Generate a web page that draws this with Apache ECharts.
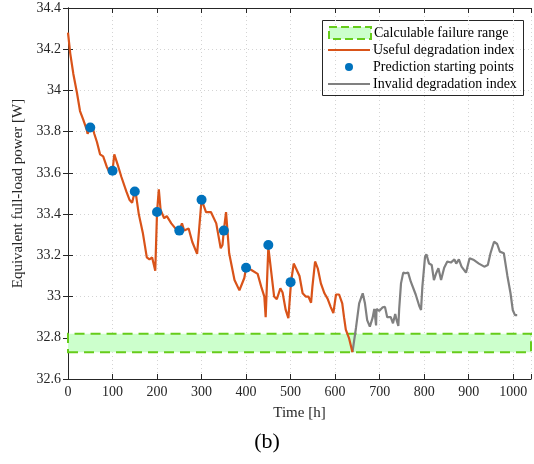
<!DOCTYPE html>
<html>
<head>
<meta charset="utf-8">
<script src="https://cdn.jsdelivr.net/npm/echarts@6/dist/echarts.min.js"></script>
<style>
  html, body { margin: 0; padding: 0; background: #fff; }
  #chart { width: 534px; height: 464px; }
</style>
</head>
<body>
<div id="chart"></div>
<script>
// useful degradation index (orange)
const usefulTime = [0, 5, 12, 20, 27, 34, 42, 44, 50, 53, 59, 65, 72, 79, 87, 94, 100, 104, 113, 120,
  131, 138, 144, 150, 153, 159, 168, 177, 183, 189, 196, 200, 204, 208, 216, 222, 232, 243, 250, 256,
  261, 271, 279, 290, 300, 310, 321, 333, 343, 347, 350, 355, 362, 374, 385, 396, 400, 411, 426, 434,
  441, 444, 450, 452, 463, 469, 477, 482, 489, 495, 501, 507, 512, 520, 527, 534, 540, 546, 549, 555,
  561, 568, 576, 583, 590, 596, 602, 609, 616, 620, 624, 631, 639];
const usefulPower = [34.28, 34.18, 34.08, 33.99, 33.90, 33.86, 33.81, 33.79, 33.82, 33.84, 33.79, 33.75, 33.69, 33.68, 33.63, 33.60, 33.61, 33.69, 33.63, 33.58,
  33.51, 33.47, 33.455, 33.51, 33.49, 33.40, 33.31, 33.19, 33.18, 33.19, 33.125, 33.41, 33.52, 33.42, 33.38, 33.39, 33.355, 33.326, 33.32, 33.355,
  33.32, 33.33, 33.266, 33.207, 33.47, 33.41, 33.41, 33.355, 33.234, 33.25, 33.32, 33.41, 33.21, 33.08, 33.03, 33.09, 33.14, 33.13, 33.11, 33.048,
  33.0, 32.90, 33.24, 33.24, 33.0, 32.987, 33.04, 33.02, 32.935, 32.895, 33.07, 33.16, 33.137, 33.10, 33.016, 33.0, 33.0, 32.97, 33.048, 33.17,
  33.137, 33.064, 33.016, 32.99, 32.95, 32.92, 33.01, 33.01, 32.967, 32.90, 32.84, 32.80, 32.73];

// invalid degradation index (grey)
const invalidTime = [639, 647, 654, 662, 667, 672, 678, 684, 688, 692, 693, 699, 707, 712, 717, 725, 730, 735, 738, 742,
  744, 748, 753, 758, 764, 770, 773, 781, 789, 793, 796, 802, 805, 811, 817, 822, 827, 832, 838, 845,
  852, 860, 868, 872, 878, 884, 894, 902, 912, 923, 935, 943, 949, 957, 964, 970, 979, 987, 994, 999,
  1004, 1009];
const invalidPower = [32.73, 32.85, 32.967, 33.016, 32.967, 32.886, 32.854, 32.895, 32.94, 32.86, 32.94, 32.93, 32.948, 32.95, 32.90, 32.90, 32.87, 32.915, 32.886, 32.857,
  32.943, 33.064, 33.116, 33.113, 33.116, 33.072, 33.064, 33.01, 32.954, 32.935, 33.048, 33.193, 33.205, 33.16, 33.153, 33.08, 33.113, 33.137, 33.08, 33.14,
  33.17, 33.165, 33.18, 33.16, 33.18, 33.145, 33.116, 33.186, 33.177, 33.16, 33.145, 33.153, 33.21, 33.266, 33.255, 33.218, 33.21, 33.10, 33.016, 32.935,
  32.91, 32.91];

// prediction starting points
const startTime = [50, 100, 150, 200, 250, 300, 350, 400, 450, 500];
const startPower = [33.82, 33.61, 33.51, 33.41, 33.32, 33.47, 33.32, 33.14, 33.25, 33.07];

// calculable failure range
const bandLow = 32.73;
const bandHigh = 32.82;

const names = ['Calculable failure range', 'Useful degradation index', 'Prediction starting points', 'Invalid degradation index'];

const zip = (xs, ys) => xs.map((x, i) => [x, ys[i]]);
const font = 'Liberation Serif';
const axisColor = '#262626';
const linePath = 'path://M0,0H44V2H0Z';

const myChart = echarts.init(document.getElementById('chart'));
const gridLine = { show: true, lineStyle: { color: '#d4d4d4', type: [1, 3], width: 1 } };

const option = {
  animation: false,
  textStyle: { fontFamily: font },
  grid: { left: 68, right: 2, top: 8, bottom: 85 },
  title: {
    text: '(b)', left: 'center', top: 426,
    textStyle: { fontFamily: font, fontSize: 22, fontWeight: 'normal', color: '#000' }
  },
  xAxis: [
    {
      type: 'value', min: 0, max: 1040, interval: 100,
      name: 'Time [h]', nameLocation: 'middle', nameGap: 27,
      nameTextStyle: { fontFamily: font, fontSize: 15, color: axisColor },
      axisLine: { lineStyle: { color: axisColor } },
      axisTick: { inside: true, length: 5, lineStyle: { color: axisColor } },
      axisLabel: {
        fontFamily: font, fontSize: 14, color: axisColor, margin: 6,
        formatter: v => (v % 100 === 0 ? String(v) : '')
      },
      splitLine: gridLine
    },
    {
      type: 'value', min: 0, max: 1040, interval: 100, position: 'top',
      axisLine: { lineStyle: { color: axisColor } },
      axisTick: { inside: true, length: 5, lineStyle: { color: axisColor } },
      axisLabel: { show: false },
      splitLine: { show: false }
    }
  ],
  yAxis: [
    {
      type: 'value', min: 32.6, max: 34.4, interval: 0.2,
      name: 'Equivalent full-load power [W]', nameLocation: 'middle', nameGap: 42,
      nameTextStyle: { fontFamily: font, fontSize: 15, color: axisColor },
      axisLine: { show: true, lineStyle: { color: axisColor } },
      axisTick: { show: true, inside: true, length: 5, lineStyle: { color: axisColor } },
      axisLabel: { fontFamily: font, fontSize: 14, color: axisColor, margin: 7 },
      splitLine: gridLine
    },
    {
      type: 'value', min: 32.6, max: 34.4, interval: 0.2, position: 'right',
      axisLine: { show: true, lineStyle: { color: axisColor } },
      axisTick: { show: true, inside: true, length: 5, lineStyle: { color: axisColor } },
      axisLabel: { show: false },
      splitLine: { show: false }
    }
  ],
  legend: [
    {
      data: [{
        name: names[0], icon: 'rect',
        itemStyle: { color: '#ccffcc', borderColor: '#66cc1a', borderWidth: 2, borderType: 'dashed' }
      }],
      orient: 'vertical', left: 328, top: 26,
      itemWidth: 42, itemHeight: 12, itemGap: 4,
      textStyle: { fontFamily: font, fontSize: 14, color: '#000', padding: [0, 0, 0, -2] },
      padding: 0, selectedMode: false
    },
    {
      data: [
        { name: names[1], icon: linePath },
        { name: names[2], icon: 'circle' },
        { name: names[3], icon: linePath }
      ],
      orient: 'vertical', left: 328, top: 43,
      itemWidth: 42, itemHeight: 8, itemGap: 3,
      textStyle: { fontFamily: font, fontSize: 14, color: '#000', padding: [0, 0, 0, -2] },
      padding: 0, selectedMode: false
    }
  ],
  graphic: [{
    type: 'rect', left: 322, top: 20, silent: true,
    shape: { width: 201, height: 75 },
    style: { fill: '#fff', stroke: '#262626', lineWidth: 1 },
    z: -1, zlevel: 0
  }],
  series: [
    {
      name: names[0], type: 'line', symbol: 'none', silent: true,
      data: [[0, bandLow], [1040, bandLow]],
      lineStyle: { opacity: 0 },
      itemStyle: { color: '#ccffcc' },
      markArea: {
        silent: true,
        itemStyle: { color: '#ccffcc', borderColor: '#66cc1a', borderWidth: 2, borderType: [10, 6] },
        data: [[{ yAxis: bandLow }, { yAxis: bandHigh }]]
      }
    },
    {
      name: names[3], type: 'line', symbol: 'none',
      data: zip(invalidTime, invalidPower),
      itemStyle: { color: '#808080' },
      lineStyle: { color: '#808080', width: 2.2 }
    },
    {
      name: names[1], type: 'line', symbol: 'none',
      data: zip(usefulTime, usefulPower),
      itemStyle: { color: '#d95319' },
      lineStyle: { color: '#d95319', width: 2.2 }
    },
    {
      name: names[2], type: 'scatter', symbolSize: 10,
      data: zip(startTime, startPower),
      itemStyle: { color: '#0072bd', opacity: 1 },
      z: 5
    }
  ]
};
myChart.setOption(option);
</script>
</body>
</html>
